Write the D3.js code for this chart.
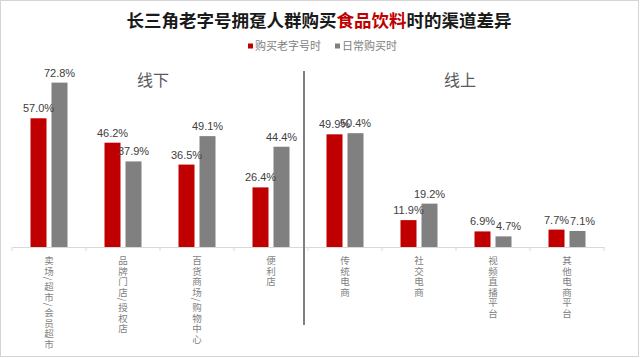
<!DOCTYPE html>
<html><head><meta charset="utf-8">
<script src="https://cdn.jsdelivr.net/npm/d3@7"></script>
<style>
html,body{margin:0;padding:0;background:#fff;}
svg{display:block;}
</style></head>
<body>
<svg id="chart" width="640" height="358"></svg>
<script>
const categories = ["卖场/超市/会员超市","品牌门店/授权店","百货商场/购物中心","便利店","传统电商","社交电商","视频直播平台","其他电商平台"];
const seriesNames = ["购买老字号时","日常购买时"];
const buyOldBrand = [57.0, 46.2, 36.5, 26.4, 49.9, 11.9, 6.9, 7.7];
const dailyBuy = [72.8, 37.9, 49.1, 44.4, 50.4, 19.2, 4.7, 7.1];
const groupLabels = ["线下","线上"];
const colors = ["#C00000","#808080"];

const svg = d3.select("#chart");
const W = 640, H = 358;
const cjk = "'Noto Sans CJK SC','Noto Sans',sans-serif";
const num = "'Liberation Sans',Arial,sans-serif";

// frame
svg.append("rect").attr("x",0.5).attr("y",0.5).attr("width",W-2).attr("height",H-2)
  .attr("fill","#fff").attr("stroke","#d4d4d4");

// title
const title = svg.append("text").attr("x",319).attr("y",27).attr("text-anchor","middle")
  .attr("font-family",cjk).attr("font-size",17.5).attr("font-weight",700).attr("fill","#1a1a1a");
title.append("tspan").text("长三角老字号拥趸人群购买");
title.append("tspan").attr("fill","#C00000").text("食品饮料");
title.append("tspan").text("时的渠道差异");

// legend
const legX = [248, 335];
seriesNames.forEach((s,i)=>{
  svg.append("rect").attr("x",legX[i]).attr("y",43.5).attr("width",5).attr("height",5).attr("fill",colors[i]);
  svg.append("text").attr("x",legX[i]+7).attr("y",50).attr("font-family",cjk).attr("font-size",11)
    .attr("fill","#7f7f7f").text(s);
});

const x0 = d3.scaleBand().domain(categories).range([12, 604]);
const x1 = d3.scaleBand().domain(seriesNames).range([18.5, 55.5]).paddingInner(2 - 37/21);
const y = d3.scaleLinear().domain([0, 100]).range([247, 21.2]);

// axis baseline
const axis = d3.axisBottom(x0).tickSize(0).tickFormat("");
const ag = svg.append("g").attr("transform","translate(0,247)").call(axis);
ag.select(".domain").attr("stroke","#d9d9d9").attr("stroke-width",1);
const bounds = categories.map(c=>x0(c)).concat([x0.range()[1]]);
svg.selectAll("line.tk").data(bounds).enter().append("line")
  .attr("x1",d=>d).attr("x2",d=>d).attr("y1",247).attr("y2",251)
  .attr("stroke","#d9d9d9");

const data = categories.map((c,i)=>({cat:c, vals:[buyOldBrand[i], dailyBuy[i]]}));

const g = svg.selectAll("g.cat").data(data).enter().append("g")
  .attr("transform",d=>`translate(${x0(d.cat)},0)`);

g.selectAll("rect").data(d=>d.vals.map((v,i)=>({s:seriesNames[i], v, i}))).enter().append("rect")
  .attr("x",d=>x1(d.s)).attr("width",x1.bandwidth())
  .attr("y",d=>y(d.v)).attr("height",d=>y(0)-y(d.v))
  .attr("fill",d=>colors[d.i]);

g.selectAll("text.val").data(d=>d.vals.map((v,i)=>({s:seriesNames[i], v, i}))).enter().append("text")
  .attr("class","val")
  .attr("x",d=>x1(d.s)+x1.bandwidth()/2 + (d.i===1 && d.v<8 ? 5 : 0))
  .attr("y",d=>y(d.v)-6).attr("text-anchor","middle")
  .attr("font-family",num).attr("font-size",11).attr("fill","#404040")
  .text(d=>d.v.toFixed(1)+"%");

// category labels (vertical, one glyph per step)
g.each(function(d){
  const lg = d3.select(this).append("g")
    .attr("font-family",cjk).attr("font-size",9.5).attr("fill","#7f7f7f");
  const cx = x0.bandwidth()/2;
  let yy = 255;
  Array.from(d.cat).forEach(ch=>{
    const isSlash = ch === "/";
    const step = isSlash ? 5 : 10.5;
    const cy = yy + step/2;
    lg.append("text")
      .attr("text-anchor","middle").attr("dominant-baseline","central")
      .attr("transform", isSlash ? `translate(${cx},${cy}) rotate(90)` : `translate(${cx},${cy})`)
      .text(ch);
    yy += step;
  });
});

// divider
const divX = x0(categories[4]) - 4;
svg.append("line").attr("x1",divX).attr("x2",divX).attr("y1",71).attr("y2",325)
  .attr("stroke","#7f7f7f").attr("stroke-width",2);

// group labels
const gx = [153, 460];
groupLabels.forEach((t,i)=>{
  svg.append("text").attr("x",gx[i]).attr("y",86).attr("text-anchor","middle")
    .attr("font-family",cjk).attr("font-size",16).attr("fill","#595959").text(t);
});
</script>
</body></html>
